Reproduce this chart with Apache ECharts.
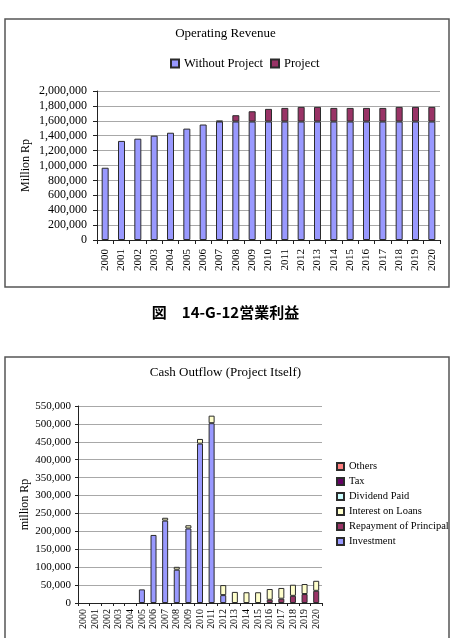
<!DOCTYPE html>
<html>
<head>
<meta charset="utf-8">
<script src="https://cdn.jsdelivr.net/npm/echarts@6/dist/echarts.min.js"></script>
<style>
html,body{margin:0;padding:0;background:#fff;}
#c{width:451px;height:638px;}
</style>
</head>
<body>
<div id="c"></div>
<script>
// ---- data ----
var years = ['2000','2001','2002','2003','2004','2005','2006','2007','2008','2009','2010','2011','2012','2013','2014','2015','2016','2017','2018','2019','2020'];

// Operating Revenue (Million Rp)
var withoutProject = [970000,1330000,1360000,1400000,1440000,1495000,1550000,1590000,1590000,1590000,1590000,1590000,1590000,1590000,1590000,1590000,1590000,1590000,1590000,1590000,1590000];
var project = [0,0,0,0,0,0,0,12000,85000,138000,170000,183000,197000,197000,183000,183000,183000,183000,197000,197000,197000];

// Cash Outflow (million Rp)
var investment = [0,0,0,0,0,38000,190000,230000,93000,208000,445000,502000,22000,0,0,0,0,0,0,0,0];
var repayment  = [0,0,0,0,0,0,0,0,0,0,0,0,0,0,0,0,9000,12000,20000,25000,34000];
var interest   = [0,0,0,0,0,0,0,8000,8000,9000,13000,21000,28000,31000,30000,30000,30000,30000,31000,28000,28000];
var dividend   = [0,0,0,0,0,0,0,0,0,0,0,0,0,0,0,0,0,0,0,0,0];
var tax        = [0,0,0,0,0,0,0,0,0,0,0,0,0,0,0,0,0,0,0,0,0];
var others     = [0,0,0,0,0,0,0,0,0,0,0,0,0,0,0,0,0,0,0,0,0];

var revTicks = {min:0, max:2000000, interval:200000};
var cashTicks = {min:0, max:550000, interval:50000};

// ---- chart ----
var FONT = '"Liberation Serif", "DejaVu Serif", serif';
function nz(a){ return a.map(function(v){ return v === 0 ? null : v; }); }
function fmt(v){ return Number(v).toLocaleString('en-US'); }

var chart = echarts.init(document.getElementById('c'), null, {renderer:'canvas'});

var border = '#2b2b2b';
chart.setOption({
  animation:false,
  backgroundColor:'#ffffff',
  textStyle:{fontFamily:FONT, color:'#000'},
  graphic:[
    {type:'rect', shape:{x:5, y:19, width:444, height:268}, style:{fill:'none', stroke:'#555', lineWidth:1.5}, z:-1},
    {type:'rect', shape:{x:5, y:357, width:444, height:290}, style:{fill:'none', stroke:'#555', lineWidth:1.5}, z:-1}
  ],
  title:[
    {text:'Operating Revenue', left:'center', top:27, padding:0,
     textStyle:{fontFamily:FONT, fontSize:13, fontWeight:'normal', color:'#000'}},
    {text:'図\u300014-G-12営業利益', left:'center', top:305, padding:0,
     textStyle:{fontFamily:'"Noto Sans CJK JP", sans-serif', fontSize:15, fontWeight:'bold', color:'#000'}},
    {text:'Cash Outflow (Project Itself)', left:'center', top:366, padding:0,
     textStyle:{fontFamily:FONT, fontSize:13, fontWeight:'normal', color:'#000'}}
  ],
  legend:[
    {data:['Without Project','Project'], left:170, top:57, padding:0,
     icon:'rect', itemWidth:8, itemHeight:8, itemGap:7,
     textStyle:{fontFamily:FONT, fontSize:12.5, color:'#000'}},
    {data:['Others','Tax','Dividend Paid','Interest on Loans','Repayment of Principal','Investment'],
     orient:'vertical', left:336, top:461, padding:0,
     icon:'rect', itemWidth:7, itemHeight:7, itemGap:4,
     textStyle:{fontFamily:FONT, fontSize:10.5, lineHeight:11, color:'#000'}}
  ],
  grid:[
    {left:97, top:91, width:343, height:149},
    {left:78, top:406, width:244, height:197}
  ],
  xAxis:[
    {type:'category', gridIndex:0, data:years,
     axisLine:{lineStyle:{color:'#222', width:1}},
     axisTick:{show:true, length:4, lineStyle:{color:'#222'}},
     axisLabel:{rotate:90, fontSize:11, margin:9, color:'#000', fontFamily:FONT, interval:0}},
    {type:'category', gridIndex:1, data:years,
     axisLine:{lineStyle:{color:'#222', width:1}},
     axisTick:{show:true, length:3, lineStyle:{color:'#222'}},
     axisLabel:{rotate:90, fontSize:10, margin:6, color:'#000', fontFamily:FONT, interval:0}}
  ],
  yAxis:[
    {type:'value', gridIndex:0, min:revTicks.min, max:revTicks.max, interval:revTicks.interval,
     name:'Million Rp', nameLocation:'middle', nameGap:65, nameMoveOverlap:false,
     nameTextStyle:{fontFamily:FONT, fontSize:12, color:'#000'},
     axisLine:{show:true, lineStyle:{color:'#222'}},
     axisTick:{show:true, length:4, lineStyle:{color:'#222'}},
     splitLine:{lineStyle:{color:'#a8a8a8', width:1}},
     axisLabel:{fontSize:12, margin:10, color:'#000', fontFamily:FONT, formatter:fmt}},
    {type:'value', gridIndex:1, min:cashTicks.min, max:cashTicks.max, interval:cashTicks.interval,
     name:'million Rp', nameLocation:'middle', nameGap:47, nameMoveOverlap:false,
     nameTextStyle:{fontFamily:FONT, fontSize:12, color:'#000'},
     axisLine:{show:true, lineStyle:{color:'#222'}},
     axisTick:{show:true, length:3, lineStyle:{color:'#222'}},
     splitLine:{lineStyle:{color:'#a8a8a8', width:1}},
     axisLabel:{fontSize:11, margin:7, color:'#000', fontFamily:FONT, formatter:fmt}}
  ],
  series:[
    {name:'Without Project', type:'bar', stack:'rev', xAxisIndex:0, yAxisIndex:0, barWidth:7,
     data:nz(withoutProject), itemStyle:{color:'#9999FF', borderColor:border, borderWidth:1}},
    {name:'Project', type:'bar', stack:'rev', xAxisIndex:0, yAxisIndex:0, barWidth:7,
     data:nz(project), itemStyle:{color:'#993366', borderColor:border, borderWidth:1}},

    {name:'Investment', type:'bar', stack:'cash', xAxisIndex:1, yAxisIndex:1, barWidth:6,
     data:nz(investment), itemStyle:{color:'#9999FF', borderColor:border, borderWidth:1}},
    {name:'Repayment of Principal', type:'bar', stack:'cash', xAxisIndex:1, yAxisIndex:1, barWidth:6,
     data:nz(repayment), itemStyle:{color:'#993366', borderColor:border, borderWidth:1}},
    {name:'Interest on Loans', type:'bar', stack:'cash', xAxisIndex:1, yAxisIndex:1, barWidth:6,
     data:nz(interest), itemStyle:{color:'#FFFFCC', borderColor:border, borderWidth:1}},
    {name:'Dividend Paid', type:'bar', stack:'cash', xAxisIndex:1, yAxisIndex:1, barWidth:6,
     data:nz(dividend), itemStyle:{color:'#CCFFFF', borderColor:border, borderWidth:1}},
    {name:'Tax', type:'bar', stack:'cash', xAxisIndex:1, yAxisIndex:1, barWidth:6,
     data:nz(tax), itemStyle:{color:'#660066', borderColor:border, borderWidth:1}},
    {name:'Others', type:'bar', stack:'cash', xAxisIndex:1, yAxisIndex:1, barWidth:6,
     data:nz(others), itemStyle:{color:'#FF8080', borderColor:border, borderWidth:1}}
  ]
});
</script>
</body>
</html>
